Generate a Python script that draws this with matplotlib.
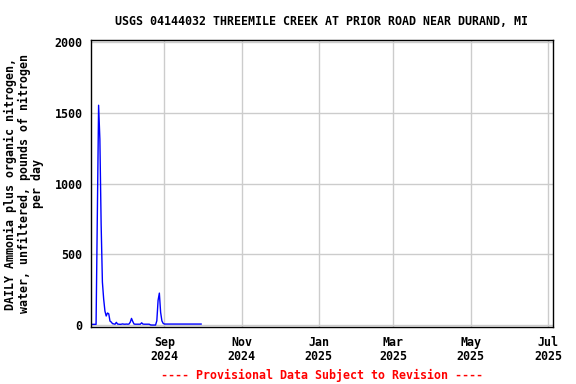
import numpy as np
import pandas as pd
import matplotlib
matplotlib.use('Agg')
import matplotlib.pyplot as plt
import matplotlib.dates as mdates

# daily load, lbs N/day, starting 2024-07-05
start = '2024-07-05'
values = [5, 5, 5, 5, 5, 780, 1555, 1315, 714, 304, 184, 99, 64, 85, 80, 28,
          21, 10, 8, 6, 19, 7, 6, 5, 6, 8, 6, 6, 7, 6, 7, 20, 47, 25, 7,
          6, 6, 6, 6, 6, 16, 7, 6, 6, 6, 6, 6, 1, 0, 0, 0, 0, 30, 175, 226,
          90, 30, 12, 7, 7, 7, 7, 7, 7, 7, 7, 7, 7, 7, 7, 7, 7, 7, 7, 7, 7,
          7, 7, 7, 7, 7, 7, 7, 7, 7, 7, 7, 7]
dates = pd.date_range(start, periods=len(values), freq='D')

yticks = [0, 500, 1000, 1500, 2000]
xticks = ['2024-09-01', '2024-11-01', '2025-01-01', '2025-03-01', '2025-05-01', '2025-07-01']

plt.rcParams['font.family'] = 'DejaVu Sans Mono'
plt.rcParams['font.weight'] = 'bold'
plt.rcParams['font.size'] = 8.4

fig = plt.figure(figsize=(5.76, 3.84), dpi=100)
ax = fig.add_axes([0.158, 0.148, 0.802, 0.748])

ax.plot(dates, values, color='#0000ff', lw=1)

ax.set_xlim(pd.Timestamp('2024-07-05'), pd.Timestamp('2025-07-05'))
ax.set_ylim(-15, 2017)
ax.set_yticks(yticks)
ax.set_xticks(pd.to_datetime(xticks))
ax.xaxis.set_major_formatter(mdates.DateFormatter('%b\n%Y'))
for lab in ax.get_xticklabels() + ax.get_yticklabels():
    lab.set_fontweight('bold')
    lab.set_linespacing(1.1)
ax.grid(True, color='#cccccc', lw=1)
ax.set_axisbelow(True)
ax.tick_params(length=0, pad=6)
for s in ax.spines.values():
    s.set_linewidth(1)
    s.set_color('black')

ax.set_ylabel('DAILY Ammonia plus organic nitrogen,\nwater, unfiltered, pounds of nitrogen\nper day',
              linespacing=1.0, labelpad=8, fontweight='bold')
ax.set_title('USGS 04144032 THREEMILE CREEK AT PRIOR ROAD NEAR DURAND, MI',
             fontsize=8.4, fontweight='bold', pad=11)
fig.text(0.559, 0.023, '---- Provisional Data Subject to Revision ----',
         color='red', ha='center', va='center', fontweight='bold', fontsize=8.4)

fig.savefig('out.png', dpi=100)
